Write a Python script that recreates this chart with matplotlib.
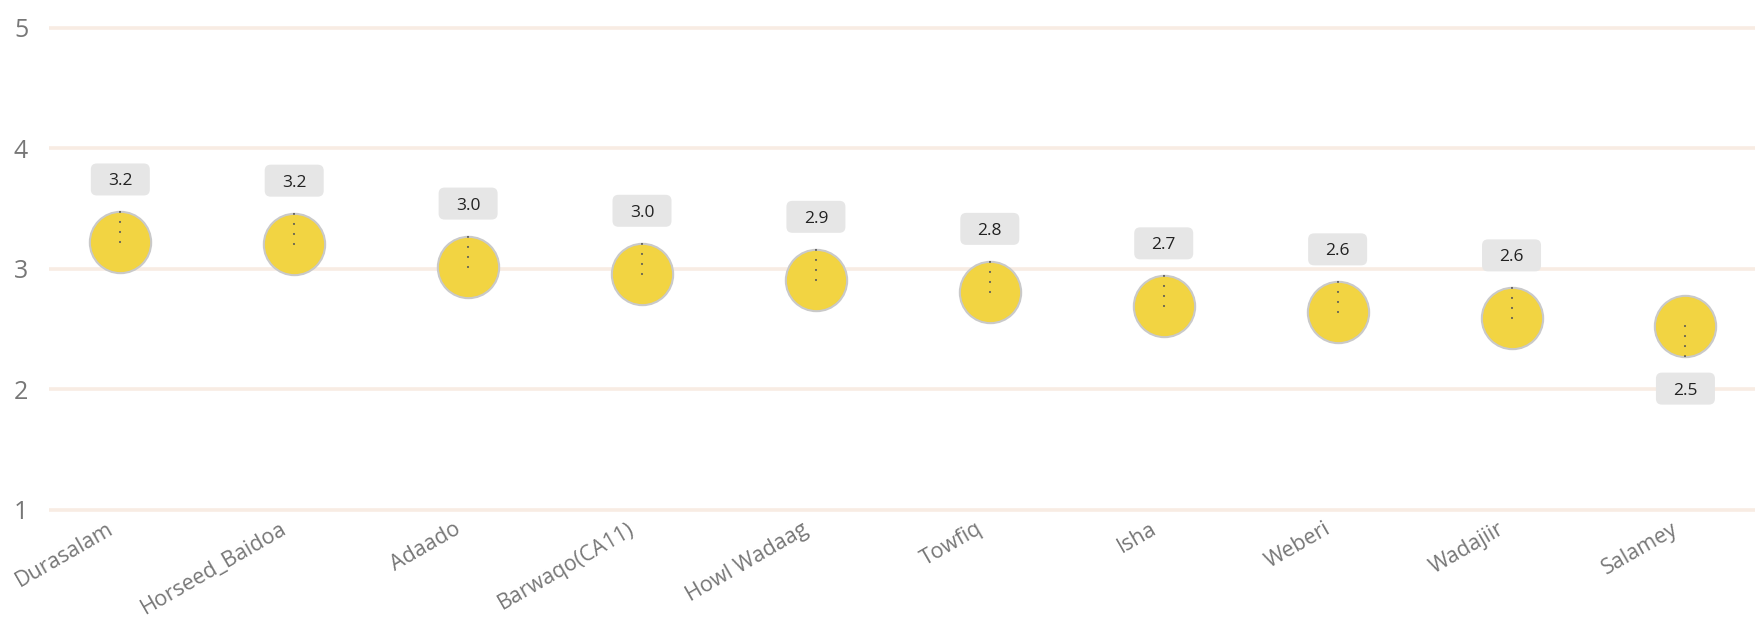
import matplotlib.pyplot as plt
import matplotlib.transforms as mtransforms
from matplotlib.patches import FancyBboxPatch
import numpy as np

plt.rcParams['font.family'] = ['Open Sans', 'DejaVu Sans']

# data
schools = ['Durasalam', 'Horseed_Baidoa', 'Adaado', 'Barwaqo(CA11)', 'Howl Wadaag',
           'Towfiq', 'Isha', 'Weberi', 'Wadajiir', 'Salamey']
scores = [3.22, 3.21, 3.02, 2.96, 2.91, 2.81, 2.69, 2.64, 2.59, 2.53]
label_above = [True, True, True, True, True, True, True, True, True, False]
yticks = [1, 2, 3, 4, 5]

W, H = 1764, 628
fig = plt.figure(figsize=(W / 100, H / 100), dpi=100)
ax = fig.add_axes([49 / W, (H - 520) / H, (1755 - 49) / W, 510 / H])
x0, x1, y0, y1 = -0.41, 9.40, 0.917, 5.149
ax.set_xlim(x0, x1)
ax.set_ylim(y0, y1)

# horizontal grid lines
for t in yticks:
    ax.axhline(t, color='#F8ECE3', lw=2.6, solid_capstyle='round', zorder=0)

x = np.arange(len(schools))
# pixel sizes in data units
px = (x1 - x0) / (1755 - 49)
py = (y1 - y0) / 510.0
bw, bh = 59, 32

for xi, v, up in zip(x, scores, label_above):
    sgn = 1 if up else -1
    ax.plot([xi, xi], [v, v + sgn * 31 * py], color='#555555', lw=1.5,
            ls=(0, (0.01, 4.8)), dash_capstyle='round', zorder=4)
    cy = v + sgn * 63 * py
    box = FancyBboxPatch((xi - bw / 2 * px, cy - bh / 2 * py), bw * px, bh * py,
                         boxstyle=f'round,pad=0,rounding_size={6 * px}',
                         mutation_aspect=py / px, fc='#E6E6E6', ec='none', zorder=5)
    ax.add_patch(box)
    ax.text(xi, cy, f'{v:.1f}', ha='center', va='center_baseline',
            fontsize=12.5, color='#222222', zorder=6)

ax.scatter(x, scores, s=1950, color='#F2D442', edgecolor='#C9C9C9',
           linewidth=1.5, zorder=3)

ax.set_yticks(yticks)
ax.set_yticklabels([str(t) for t in yticks], fontsize=18, color='#777777')
ax.set_xticks(x)
ax.set_xticklabels(schools, rotation=30, ha='right', rotation_mode='anchor',
                   fontsize=15.5, color='#777777')
ax.tick_params(axis='both', length=0)
ax.tick_params(axis='y', pad=15)
ax.tick_params(axis='x', pad=-1)
shift = mtransforms.ScaledTranslation(-14 / 100, 0, fig.dpi_scale_trans)
for lab in ax.get_xticklabels():
    lab.set_transform(lab.get_transform() + shift)
for s in ax.spines.values():
    s.set_visible(False)

fig.savefig('out.png', dpi=100)
